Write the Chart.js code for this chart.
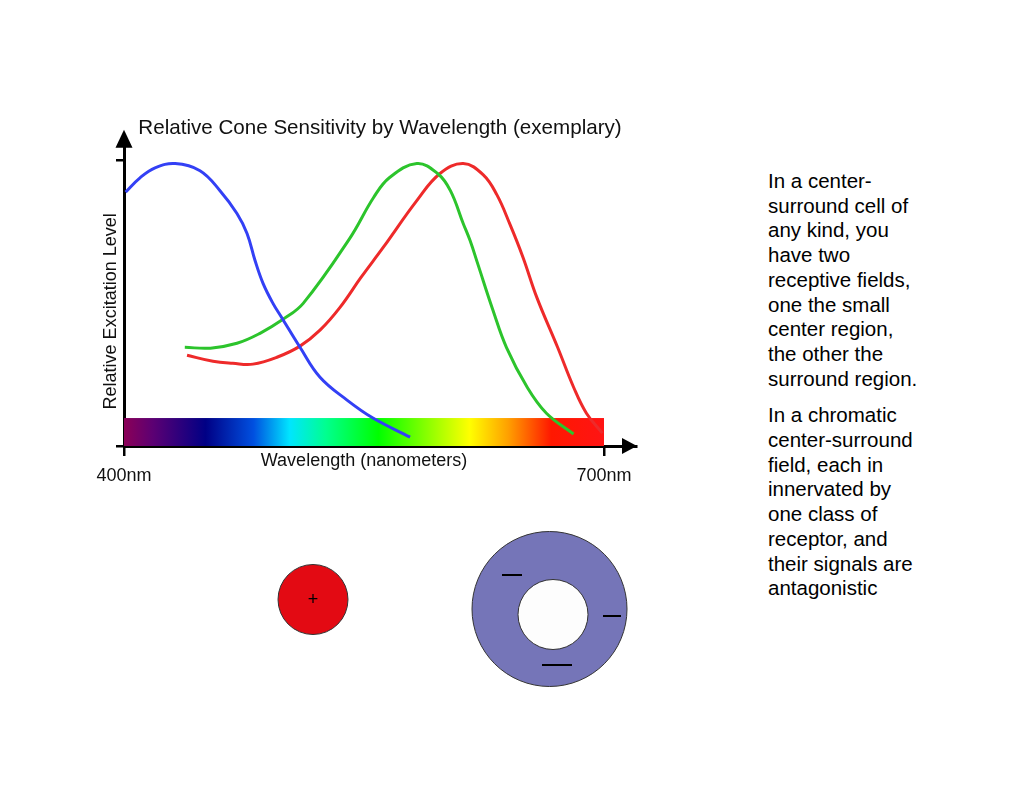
<!DOCTYPE html>
<html>
<head>
<meta charset="utf-8">
<script src="https://cdn.jsdelivr.net/npm/chart.js@4/dist/chart.umd.min.js"></script>
<style>
    body { margin: 0; background: #fff; width: 1020px; height: 788px; position: relative; overflow: hidden; font-family: "Liberation Sans", Arial, sans-serif; }
    #wrap { position: absolute; left: 0; top: 0; width: 660px; height: 500px; }
    .notes { position: absolute; left: 768px; top: 169px; font-size: 20.5px; line-height: 24.7px; color: #000; white-space: nowrap; }
    .notes p { margin: 0 0 12px 0; }
    svg { position: absolute; left: 0; top: 0; }
</style>
</head>
<body>
<div id="wrap"><canvas id="coneChart"></canvas></div>

<div class="notes">
    <p>In a center-<br>surround cell of<br>any kind, you<br>have two<br>receptive fields,<br>one the small<br>center region,<br>the other the<br>surround region.</p>
    <p>In a chromatic<br>center-surround<br>field, each in<br>innervated by<br>one class of<br>receptor, and<br>their signals are<br>antagonistic</p>
</div>

<svg width="1020" height="788">
    <circle cx="313" cy="599.5" r="35" fill="#e30a13" stroke="#333" stroke-width="1"/>
    <text x="313" y="600" font-family="Liberation Sans" font-size="18" text-anchor="middle" dominant-baseline="middle">+</text>
    <circle cx="549.5" cy="609" r="77.5" fill="#7575b8" stroke="#333" stroke-width="1"/>
    <circle cx="553" cy="614.5" r="35" fill="#fdfdfd" stroke="#333" stroke-width="1"/>
    <line x1="502" y1="575" x2="522" y2="575" stroke="#000" stroke-width="2"/>
    <line x1="603" y1="616" x2="621" y2="616" stroke="#000" stroke-width="2"/>
    <line x1="542" y1="665" x2="572" y2="665" stroke="#000" stroke-width="2"/>
</svg>

<script>
'use strict';

// wavelength (nm) and relative excitation
const blueNm = [401, 410, 419.4, 432, 447.5, 460, 470.6, 476.9, 481.9, 486.9, 493.1, 498.8, 510, 522.5, 539.4, 555.6, 578.8];
const blueVal = [0.89, 0.94, 0.975, 0.99, 0.965, 0.895, 0.815, 0.745, 0.65, 0.57, 0.50, 0.448, 0.346, 0.241, 0.161, 0.098, 0.031];

const greenNm = [438, 454, 470.6, 485, 499.4, 512, 541, 556, 566, 583, 596, 604, 612, 616.3, 621, 630.6, 639, 652, 664, 681];
const greenVal = [0.346, 0.343, 0.36, 0.395, 0.444, 0.50, 0.727, 0.871, 0.941, 0.99, 0.955, 0.895, 0.78, 0.72, 0.64, 0.476, 0.346, 0.206, 0.115, 0.042];

const redNm = [439.4, 455.6, 468, 480.6, 495.6, 510, 522.5, 535, 548, 562, 583, 597.5, 612, 624.4, 633, 641.3, 649.4, 658, 671, 681, 689, 699];
const redVal = [0.318, 0.297, 0.29, 0.287, 0.311, 0.350, 0.406, 0.486, 0.59, 0.696, 0.86, 0.955, 0.99, 0.951, 0.881, 0.776, 0.661, 0.521, 0.346, 0.206, 0.115, 0.045];

const xTickValues = [400, 700];
const xTickLabels = ['400nm', '700nm'];
const yTickValues = [0, 1];

const spectrumRange = [400, 700];
const spectrumHeight = 0.098;
const spectrumStops = [
    [0.00, '#8b0057'], [0.06, '#5c0073'], [0.17, '#000085'], [0.27, '#0050e0'],
    [0.345, '#00e5ff'], [0.42, '#00ff90'], [0.53, '#00ff00'], [0.66, '#b0ff00'],
    [0.72, '#ffff00'], [0.80, '#ffa000'], [0.89, '#ff1800'], [1.00, '#ff1414']
];

const fontFamily = '"Liberation Sans", Arial, sans-serif';

function toPoints(xs, ys) {
    return xs.map((x, i) => ({x: x, y: ys[i]}));
}

const decor = {
    id: 'decor',
    beforeDatasetsDraw(chart) {
        const ctx = chart.ctx;
        const xs = chart.scales.x;
        const ys = chart.scales.y;
        const x0 = xs.getPixelForValue(spectrumRange[0]);
        const x1 = xs.getPixelForValue(spectrumRange[1]);
        const y0 = ys.getPixelForValue(spectrumHeight);
        const y1 = ys.getPixelForValue(0);
        const grad = ctx.createLinearGradient(x0, 0, x1, 0);
        spectrumStops.forEach(function (s) {
            grad.addColorStop(s[0], s[1]);
        });
        ctx.save();
        ctx.fillStyle = grad;
        ctx.fillRect(x0, y0, x1 - x0, y1 - y0);
        ctx.restore();
    },
    afterDraw(chart) {
        const ctx = chart.ctx;
        const a = chart.chartArea;
        ctx.save();
        ctx.fillStyle = '#000';
        // up arrow
        ctx.beginPath();
        ctx.moveTo(a.left, a.top - 15);
        ctx.lineTo(a.left - 8.5, a.top + 3);
        ctx.lineTo(a.left + 8.5, a.top + 3);
        ctx.closePath();
        ctx.fill();
        // right arrow
        ctx.beginPath();
        ctx.moveTo(a.right + 1, a.bottom);
        ctx.lineTo(a.right - 14, a.bottom - 8);
        ctx.lineTo(a.right - 14, a.bottom + 8);
        ctx.closePath();
        ctx.fill();

        ctx.fillStyle = '#111';
        ctx.font = '18px ' + fontFamily;
        ctx.textAlign = 'center';
        ctx.textBaseline = 'middle';
        ctx.fillText('Wavelength (nanometers)', a.left + 240, a.bottom + 15);

        ctx.translate(a.left - 13, (a.top + a.bottom) / 2 + 16);
        ctx.rotate(-Math.PI / 2);
        ctx.fillText('Relative Excitation Level', 0, 0);
        ctx.restore();
    }
};

document.addEventListener('DOMContentLoaded', (event) => {

    const axisGrid = {
        drawOnChartArea: false,
        drawTicks: true,
        color: '#000',
        lineWidth: 2.5
    };

    function curve(label, xs, ys, color) {
        return {
            label: label,
            data: toPoints(xs, ys),
            borderColor: color,
            borderWidth: 3,
            pointRadius: 0,
            tension: 0.4,
            fill: false
        };
    }

    new Chart(document.getElementById('coneChart'), {
        type: 'line',
        data: {
            datasets: [
                curve('S', blueNm, blueVal, '#3340f5'),
                curve('M', greenNm, greenVal, '#2cc42c'),
                curve('L', redNm, redVal, '#ee2a2a')
            ]
        },
        options: {
            responsive: true,
            maintainAspectRatio: false,
            animation: false,
            layout: {
                padding: {left: 0, right: 24, top: 0, bottom: 0}
            },
            scales: {
                x: {
                    type: 'linear',
                    min: 400,
                    max: 720,
                    afterBuildTicks: function (scale) {
                        scale.ticks = xTickValues.map(v => ({value: v}));
                    },
                    afterFit: function (scale) {
                        scale.height = 54;
                    },
                    ticks: {
                        autoSkip: false,
                        maxRotation: 0,
                        padding: 9,
                        color: '#111',
                        font: {family: fontFamily, size: 18},
                        callback: function (value, idx) {
                            return xTickLabels[idx];
                        }
                    },
                    grid: Object.assign({tickLength: 10}, axisGrid),
                    border: {color: '#000', width: 3}
                },
                y: {
                    min: 0,
                    max: 1.056,
                    afterBuildTicks: function (scale) {
                        scale.ticks = yTickValues.map(v => ({value: v}));
                    },
                    afterFit: function (scale) {
                        scale.width = 124;
                    },
                    ticks: {display: false},
                    grid: Object.assign({tickLength: 8}, axisGrid),
                    border: {color: '#000', width: 3}
                }
            },
            plugins: {
                legend: {display: false},
                tooltip: {enabled: false},
                title: {
                    display: true,
                    fullSize: false,
                    text: 'Relative Cone Sensitivity by Wavelength (exemplary)',
                    color: '#111',
                    font: {family: fontFamily, size: 20.6, weight: 'normal'},
                    padding: {top: 116, bottom: 4}
                }
            }
        },
        plugins: [decor]
    });
});
</script>
</body>
</html>
